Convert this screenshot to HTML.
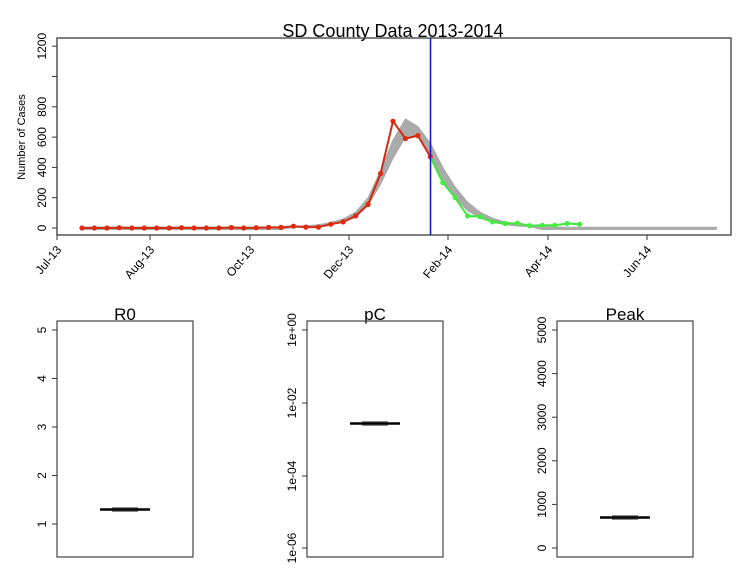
<!DOCTYPE html>
<html><head><meta charset="utf-8"><style>
body{margin:0;background:#fff}
svg{display:block;font-family:"Liberation Sans",sans-serif}
</style></head><body>
<svg width="750" height="586" viewBox="0 0 750 586" xmlns="http://www.w3.org/2000/svg">
<rect width="750" height="586" fill="#fff"/>
<!-- Top panel -->
<text x="393" y="37" font-size="18" text-anchor="middle">SD County Data 2013-2014</text>
<rect x="57" y="38" width="674" height="197" fill="none" stroke="#555" stroke-width="1.5"/>
<g stroke="#333" stroke-width="1">
<line x1="52" y1="228" x2="57" y2="228"/><line x1="52" y1="197.7" x2="57" y2="197.7"/>
<line x1="52" y1="167.4" x2="57" y2="167.4"/><line x1="52" y1="137.1" x2="57" y2="137.1"/>
<line x1="52" y1="106.8" x2="57" y2="106.8"/><line x1="52" y1="76.5" x2="57" y2="76.5"/>
<line x1="52" y1="46.2" x2="57" y2="46.2"/>
<line x1="57" y1="235" x2="57" y2="240"/><line x1="150" y1="235" x2="150" y2="240"/>
<line x1="250" y1="235" x2="250" y2="240"/><line x1="349" y1="235" x2="349" y2="240"/>
<line x1="448" y1="235" x2="448" y2="240"/><line x1="548" y1="235" x2="548" y2="240"/>
<line x1="647" y1="235" x2="647" y2="240"/>
</g>
<g font-size="12" text-anchor="middle">
<text transform="translate(46,228) rotate(-90)">0</text>
<text transform="translate(46,197.7) rotate(-90)">200</text>
<text transform="translate(46,167.4) rotate(-90)">400</text>
<text transform="translate(46,137.1) rotate(-90)">600</text>
<text transform="translate(46,106.8) rotate(-90)">800</text>
<text transform="translate(46,46.2) rotate(-90)">1200</text>
</g>
<text transform="translate(25,137) rotate(-90)" font-size="11" text-anchor="middle">Number of Cases</text>
<g font-size="12" text-anchor="end">
<text transform="translate(62,250) rotate(-50)">Jul-13</text>
<text transform="translate(155,250) rotate(-50)">Aug-13</text>
<text transform="translate(255,250) rotate(-50)">Oct-13</text>
<text transform="translate(354,250) rotate(-50)">Dec-13</text>
<text transform="translate(453,250) rotate(-50)">Feb-14</text>
<text transform="translate(553,250) rotate(-50)">Apr-14</text>
<text transform="translate(652,250) rotate(-50)">Jun-14</text>
</g>
<!-- gray model band -->
<polygon fill="#aaa" stroke="#aaa" stroke-width="1" points="82,227 281,227.2 293.5,226.5 305.9,225.7 318.4,224.7 330.8,222.5 343.2,218.9 355.7,212.1 368.1,197.7 380.6,170.4 393,140.1 405.4,118.9 417.9,126.5 430.3,143.2 442.8,167.4 455.2,187.1 467.6,202.2 480.1,212.1 492.5,218.2 505,221.9 517.4,224.1 529.8,225.6 542.3,226.5 554.7,226.9 567.2,227.2 716.4,227.2 716.4,229.5 542.3,229.5 529.8,226.8 517.4,226 505,224.7 492.5,222.2 480.1,218.2 467.6,210.6 455.2,197.7 442.8,179.5 430.3,155.3 417.9,135.6 405.4,137.1 393,158.3 380.6,184.1 368.1,205.3 355.7,217.4 343.2,221.9 330.8,224.7 318.4,226.2 305.9,227.1 293.5,227.5 281,229.5 82,229.5"/>
<!-- red observed -->
<polyline fill="none" stroke="#d42a10" stroke-width="2" points="82,228 94.4,228 106.9,228 119.3,227.7 131.8,228 144.2,228 156.6,228 169.1,228 181.5,227.7 194,228 206.4,228 218.8,228 231.3,227.5 243.7,228 256.2,227.7 268.6,227.4 281,227.4 293.5,226.2 305.9,227.1 318.4,227.1 330.8,224.2 343.2,221.9 355.7,215.9 368.1,204.5 380.6,173.5 393,121.2 405.4,138.6 417.9,135.6 430.3,156.8"/>
<g fill="#e02a10">
<circle cx="82" cy="228" r="2.6"/><circle cx="94.4" cy="228" r="2.6"/><circle cx="106.9" cy="228" r="2.6"/><circle cx="119.3" cy="227.7" r="2.6"/><circle cx="131.8" cy="228" r="2.6"/><circle cx="144.2" cy="228" r="2.6"/><circle cx="156.6" cy="228" r="2.6"/><circle cx="169.1" cy="228" r="2.6"/><circle cx="181.5" cy="227.7" r="2.6"/><circle cx="194" cy="228" r="2.6"/><circle cx="206.4" cy="228" r="2.6"/><circle cx="218.8" cy="228" r="2.6"/><circle cx="231.3" cy="227.5" r="2.6"/><circle cx="243.7" cy="228" r="2.6"/><circle cx="256.2" cy="227.7" r="2.6"/><circle cx="268.6" cy="227.4" r="2.6"/><circle cx="281" cy="227.4" r="2.6"/><circle cx="293.5" cy="226.2" r="2.6"/><circle cx="305.9" cy="227.1" r="2.6"/><circle cx="318.4" cy="227.1" r="2.6"/><circle cx="330.8" cy="224.2" r="2.6"/><circle cx="343.2" cy="221.9" r="2.6"/><circle cx="355.7" cy="215.9" r="2.6"/><circle cx="368.1" cy="204.5" r="2.6"/><circle cx="380.6" cy="173.5" r="2.6"/><circle cx="393" cy="121.2" r="2.6"/><circle cx="405.4" cy="138.6" r="2.6"/><circle cx="417.9" cy="135.6" r="2.6"/><circle cx="430.3" cy="156.8" r="2.6"/>
</g>
<!-- green -->
<polyline fill="none" stroke="#3ee83a" stroke-width="2" points="430.3,156.8 442.8,182.6 455.2,197.7 467.6,215.9 480.1,216.6 492.5,221.9 505,223.5 517.4,223.2 529.8,225.7 542.3,225.3 554.7,225.3 567.2,223.5 579.6,224.2"/>
<g fill="#44ee40">
<circle cx="442.8" cy="182.6" r="2.6"/><circle cx="455.2" cy="197.7" r="2.6"/><circle cx="467.6" cy="215.9" r="2.6"/><circle cx="480.1" cy="216.6" r="2.6"/><circle cx="492.5" cy="221.9" r="2.6"/><circle cx="505" cy="223.5" r="2.6"/><circle cx="517.4" cy="223.2" r="2.6"/><circle cx="529.8" cy="225.7" r="2.6"/><circle cx="542.3" cy="225.3" r="2.6"/><circle cx="554.7" cy="225.3" r="2.6"/><circle cx="567.2" cy="223.5" r="2.6"/><circle cx="579.6" cy="224.2" r="2.6"/>
</g>
<line x1="430.5" y1="38" x2="430.5" y2="235" stroke="#1010d0" stroke-width="1.5"/>

<!-- R0 panel -->
<text x="125" y="320" font-size="17" text-anchor="middle">R0</text>
<rect x="57" y="321" width="136" height="236" fill="none" stroke="#444" stroke-width="1.2"/>
<g stroke="#333"><line x1="52" y1="330" x2="57" y2="330"/><line x1="52" y1="378.5" x2="57" y2="378.5"/><line x1="52" y1="427" x2="57" y2="427"/><line x1="52" y1="475.5" x2="57" y2="475.5"/><line x1="52" y1="524" x2="57" y2="524"/></g>
<g font-size="12" text-anchor="middle">
<text transform="translate(46,330) rotate(-90)">5</text><text transform="translate(46,378.5) rotate(-90)">4</text><text transform="translate(46,427) rotate(-90)">3</text><text transform="translate(46,475.5) rotate(-90)">2</text><text transform="translate(46,524) rotate(-90)">1</text>
</g>
<rect x="112" y="507" width="26" height="5" fill="#888"/>
<line x1="100" y1="509.5" x2="150" y2="509.5" stroke="#000" stroke-width="2.5"/>

<!-- pC panel -->
<text x="375" y="320" font-size="17" text-anchor="middle">pC</text>
<rect x="307" y="321" width="136" height="236" fill="none" stroke="#444" stroke-width="1.2"/>
<g stroke="#333"><line x1="302" y1="330" x2="307" y2="330"/><line x1="302" y1="403" x2="307" y2="403"/><line x1="302" y1="476" x2="307" y2="476"/><line x1="302" y1="548" x2="307" y2="548"/></g>
<g font-size="12" text-anchor="middle">
<text transform="translate(296,330) rotate(-90)">1e+00</text><text transform="translate(296,403) rotate(-90)">1e-02</text><text transform="translate(296,476) rotate(-90)">1e-04</text><text transform="translate(296,548) rotate(-90)">1e-06</text>
</g>
<rect x="362" y="421" width="26" height="5" fill="#888"/>
<line x1="350" y1="423.5" x2="400" y2="423.5" stroke="#000" stroke-width="2.5"/>

<!-- Peak panel -->
<text x="625" y="320" font-size="17" text-anchor="middle">Peak</text>
<rect x="557" y="321" width="136" height="236" fill="none" stroke="#444" stroke-width="1.2"/>
<g stroke="#333"><line x1="552" y1="330" x2="557" y2="330"/><line x1="552" y1="373.6" x2="557" y2="373.6"/><line x1="552" y1="417.2" x2="557" y2="417.2"/><line x1="552" y1="460.8" x2="557" y2="460.8"/><line x1="552" y1="504.4" x2="557" y2="504.4"/><line x1="552" y1="548" x2="557" y2="548"/></g>
<g font-size="12" text-anchor="middle">
<text transform="translate(546,330) rotate(-90)">5000</text><text transform="translate(546,373.6) rotate(-90)">4000</text><text transform="translate(546,417.2) rotate(-90)">3000</text><text transform="translate(546,460.8) rotate(-90)">2000</text><text transform="translate(546,504.4) rotate(-90)">1000</text><text transform="translate(546,548) rotate(-90)">0</text>
</g>
<rect x="612" y="515" width="26" height="5" fill="#888"/>
<line x1="600" y1="517.5" x2="650" y2="517.5" stroke="#000" stroke-width="2.5"/>
</svg>
</body></html>
